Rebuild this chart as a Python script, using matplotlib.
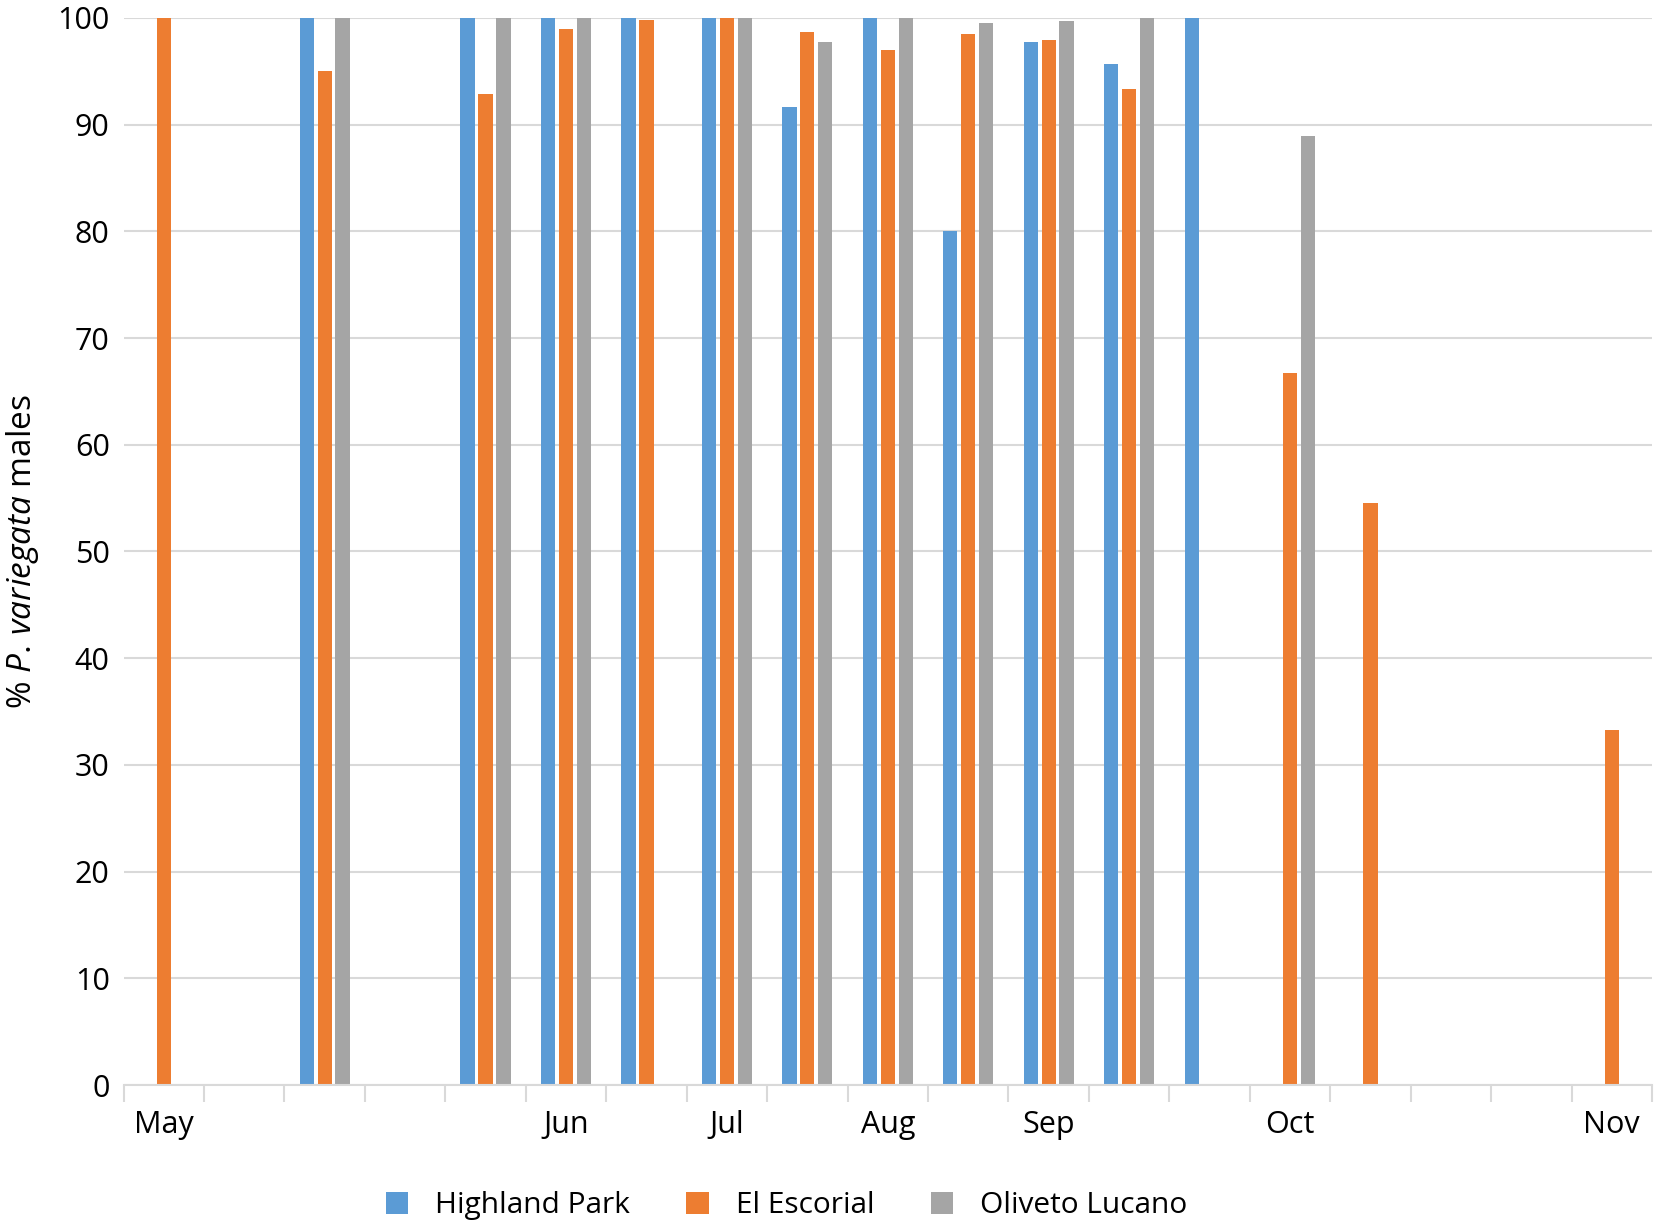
import matplotlib.pyplot as plt
import numpy as np

plt.rcParams['font.family'] = ['Open Sans', 'DejaVu Sans']
plt.rcParams['mathtext.fontset'] = 'custom'
plt.rcParams['mathtext.rm'] = 'Open Sans'
plt.rcParams['mathtext.it'] = 'Open Sans:italic'

nan = np.nan
# 19 sampling slots, month label shown on some of them
tick_labels = ['May', '', '', '', '', 'Jun', '', 'Jul', '', 'Aug', '',
               'Sep', '', '', 'Oct', '', '', '', 'Nov']
highland_park = [nan, nan, 100, nan, 100, 100, 100, 100, 91.7, 100, 80,
                 97.7, 95.7, 100, nan, nan, nan, nan, nan]
el_escorial = [100, nan, 95, nan, 92.9, 99, 99.8, 100, 98.7, 97, 98.5,
               97.9, 93.3, nan, 66.7, 54.5, nan, nan, 33.3]
oliveto_lucano = [nan, nan, 100, nan, 100, 100, nan, 100, 97.7, 100, 99.5,
                  99.7, 100, nan, 88.9, nan, nan, nan, nan]

series = [('Highland Park', highland_park, '#5B9BD5'),
          ('El Escorial', el_escorial, '#ED7D31'),
          ('Oliveto Lucano', oliveto_lucano, '#A5A5A5')]

fig = plt.figure(figsize=(16.56, 12.28), dpi=100)
ax = fig.add_axes([0.0746, 0.1164, 0.9230, 0.8690])

x = np.arange(len(tick_labels))
width = 0.177
offset = 0.223
for i, (name, vals, col) in enumerate(series):
    ax.bar(x + (i - 1) * offset, vals, width=width, color=col, label=name, zorder=3)

ax.set_xlim(-0.5, len(tick_labels) - 0.5)
ax.set_ylim(0, 100)
ax.set_yticks(np.arange(0, 101, 10))
ax.tick_params(axis='y', length=0, labelsize=22, pad=10)
ax.grid(axis='y', color='#D9D9D9', linewidth=1.5, zorder=0)

# tick marks at slot boundaries, labels at slot centres
ax.set_xticks(np.arange(-0.5, len(tick_labels)), minor=False)
ax.set_xticklabels([])
ax.tick_params(axis='x', which='major', length=12, width=1.5, color='#D9D9D9')
ax.set_xticks(x, minor=True)
ax.set_xticklabels(tick_labels, minor=True)
ax.tick_params(axis='x', which='minor', length=0, labelsize=22, pad=18)

for s in ['top', 'right', 'left']:
    ax.spines[s].set_visible(False)
ax.spines['bottom'].set_color('#D9D9D9')
ax.spines['bottom'].set_linewidth(1.5)
ax.spines['bottom'].set_zorder(4)

ax.set_ylabel(r'% $\mathit{P.\,variegata}$ males', fontsize=24)
ax.yaxis.set_label_coords(-0.054, 0.5)

fig.legend(loc='center', bbox_to_anchor=(0.475, 0.018), ncol=3, frameon=False,
           fontsize=21.5, handlelength=0.75, handleheight=0.75, handletextpad=0.9,
           columnspacing=1.9)

fig.savefig('out.png', dpi=100)
